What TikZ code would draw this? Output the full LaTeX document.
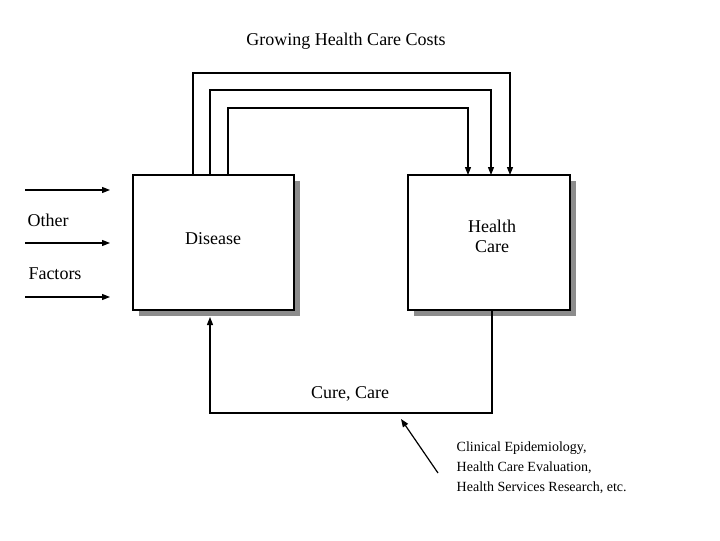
\documentclass[tikz,border=0pt]{standalone}
\usepackage{fontspec}
\setmainfont{Liberation Serif}
\usetikzlibrary{arrows.meta}
\begin{document}
\begin{tikzpicture}[x=0.75pt,y=-0.75pt,
  box/.style={draw,fill=white,line width=0.8pt},
  shad/.style={fill=black!45},
  arr/.style={line width=0.9pt,-{Triangle[length=6pt,width=4.5pt]}},
  lbl/.style={font=\fontsize{13.5}{15}\selectfont},
  small/.style={font=\fontsize{10.5}{15}\selectfont,align=left,anchor=west}]
\useasboundingbox (0,0) rectangle (720,540);
\fill[shad] (139,181) rectangle (300,316);
\fill[shad] (414,181) rectangle (576,316);
\draw[box] (133,175) rectangle (294,310);
\draw[box] (408,175) rectangle (570,310);
\node[lbl] (dis) at (213,239) {Disease};
\node[lbl,align=center] (hc) at (492,236) {Health\\Care};
\coordinate (d1) at (193,175); \coordinate (d2) at (210,175); \coordinate (d3) at (228,175);
\coordinate (h1) at (510,175); \coordinate (h2) at (491,175); \coordinate (h3) at (468,175);
\draw[arr] (d1) |- (351,73) -| (h1);
\draw[arr] (d2) |- (351,90) -| (h2);
\draw[arr] (d3) |- (351,108) -| (h3);
\node[lbl] (title) at (346,41) {Growing Health Care Costs};
\foreach \y/\n in {190/a,243/b,297/c}{
  \coordinate (o\n) at (25,\y); \coordinate (e\n) at (110,\y);
  \draw[arr] (o\n) -- (e\n);}
\node[lbl] (oth) at (48,220) {Other};
\node[lbl] (fac) at (55,274) {Factors};
\coordinate (hb) at (492,310); \coordinate (db) at (210,317);
\draw[arr] (hb) |- (351,413) -| (db);
\node[lbl] (cc) at (350,394) {Cure, Care};
\coordinate (ds) at (438,473); \coordinate (de) at (401,419);
\draw[arr] (ds) -- (de);
\node[small] (ce) at (452,468) {Clinical Epidemiology,\\Health Care Evaluation,\\Health Services Research, etc.};
\end{tikzpicture}
\end{document}
